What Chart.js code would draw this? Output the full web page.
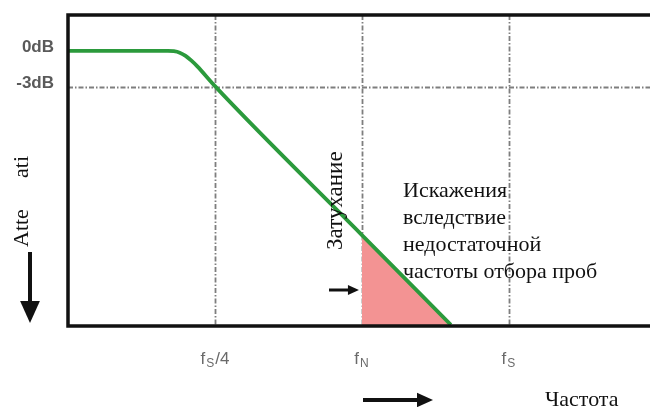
<!DOCTYPE html>
<html>
<head>
<meta charset="utf-8">
<script src="https://cdn.jsdelivr.net/npm/chart.js@4"></script>
<style>
    html, body { margin: 0; padding: 0; background: #fff; }
    #wrap { width: 650px; height: 407px; }
</style>
</head>
<body>
<div id="wrap"><canvas id="chart-js" width="650" height="407"></canvas></div>
<script>
// x in units of fs/4, y in dB
const freqTicks = [1, 2, 3];
const freqLabels = [['f', 'S', '/4'], ['f', 'N', ''], ['f', 'S', '']];
const levelTicks = [0, -3];
const levelLabels = ['0dB', '-3dB'];

const responseX = [0, 0.68, 0.72, 0.76, 0.80, 0.84, 0.88, 1.0, 2.0, 2.605];
const responseDb = [0, 0, -0.03, -0.15, -0.42, -0.82, -1.3, -2.95, -15.4, -22.9];

const aliasX = [2.0, 2.605];
const aliasDb = [-15.4, -22.9];

const gridDb = [-3];

const axisLabelParts = ['Atte', 'ati'];
const attenLabel = 'Затухание';
const aliasText = ['Искажения', 'вследствие', 'недостаточной', 'частоты отбора проб'];
const freqTitle = 'Частота';

const toPoints = (xs, ys) => xs.map((x, i) => ({ x: x, y: ys[i] }));

function arrow(ctx, x1, y1, x2, y2, head, w) {
    const a = Math.atan2(y2 - y1, x2 - x1);
    ctx.save();
    ctx.strokeStyle = '#111';
    ctx.fillStyle = '#111';
    ctx.lineWidth = w;
    ctx.beginPath();
    ctx.moveTo(x1, y1);
    ctx.lineTo(x2 - Math.cos(a) * head * 0.8, y2 - Math.sin(a) * head * 0.8);
    ctx.stroke();
    ctx.beginPath();
    ctx.moveTo(x2, y2);
    ctx.lineTo(x2 - Math.cos(a) * head - Math.sin(a) * head * 0.45, y2 - Math.sin(a) * head + Math.cos(a) * head * 0.45);
    ctx.lineTo(x2 - Math.cos(a) * head + Math.sin(a) * head * 0.45, y2 - Math.sin(a) * head - Math.cos(a) * head * 0.45);
    ctx.closePath();
    ctx.fill();
    ctx.restore();
}

const decor = {
    id: 'decor',
    beforeDatasetsDraw(chart) {
        const { ctx, chartArea: ca, scales: { x, y } } = chart;
        ctx.save();
        ctx.strokeStyle = '#7e7e7e';
        ctx.lineWidth = 1.8;
        ctx.setLineDash([5, 2, 1.5, 2]);
        freqTicks.forEach(v => {
            const px = Math.round(x.getPixelForValue(v)) + 0.5;
            ctx.beginPath();
            ctx.moveTo(px, ca.top);
            ctx.lineTo(px, ca.bottom);
            ctx.stroke();
        });
        gridDb.forEach(v => {
            const py = Math.round(y.getPixelForValue(v)) + 0.5;
            ctx.beginPath();
            ctx.moveTo(ca.left, py);
            ctx.lineTo(ca.right, py);
            ctx.stroke();
        });
        ctx.restore();
    },
    afterDatasetsDraw(chart) {
        const { ctx, chartArea: ca, scales: { x, y } } = chart;
        ctx.save();

        // frame: left, top, bottom
        ctx.strokeStyle = '#111';
        ctx.lineWidth = 3.5;
        ctx.beginPath();
        ctx.moveTo(ca.right + 2, ca.top);
        ctx.lineTo(ca.left, ca.top);
        ctx.lineTo(ca.left, ca.bottom);
        ctx.lineTo(ca.right + 2, ca.bottom);
        ctx.stroke();

        // level labels
        ctx.fillStyle = '#5a5a5a';
        ctx.font = 'bold 17px "Liberation Sans", Arial, sans-serif';
        ctx.textAlign = 'right';
        ctx.textBaseline = 'alphabetic';
        levelTicks.forEach((v, i) => {
            ctx.fillText(levelLabels[i], ca.left - 14, y.getPixelForValue(v) + 1);
        });

        // frequency labels with subscripts
        ctx.fillStyle = '#6a6a6a';
        ctx.textAlign = 'left';
        const big = '17px "Liberation Sans", Arial, sans-serif';
        const small = '12px "Liberation Sans", Arial, sans-serif';
        freqTicks.forEach((v, i) => {
            const [m, sub, rest] = freqLabels[i];
            ctx.font = big;
            const wm = ctx.measureText(m).width + 1;
            const wr = ctx.measureText(rest).width;
            ctx.font = small;
            const ws = ctx.measureText(sub).width + 1;
            const px = x.getPixelForValue(v) - (wm + ws + wr) / 2;
            const base = 364;
            ctx.font = big;
            ctx.fillText(m, px, base);
            ctx.font = small;
            ctx.fillText(sub, px + wm, base + 3);
            ctx.font = big;
            ctx.fillText(rest, px + wm + ws, base);
        });

        // serif annotations
        ctx.fillStyle = '#111';
        ctx.font = '22px "Liberation Serif", "Times New Roman", serif';
        ctx.save();
        ctx.translate(28, 247);
        ctx.rotate(-Math.PI / 2);
        ctx.fillText(axisLabelParts[0], 0, 0);
        ctx.fillText(axisLabelParts[1], 69, 0);
        ctx.restore();

        ctx.save();
        ctx.font = '23px "Liberation Serif", "Times New Roman", serif';
        ctx.translate(342, 250);
        ctx.rotate(-Math.PI / 2);
        ctx.fillText(attenLabel, 0, 0);
        ctx.restore();

        ctx.font = '22px "Liberation Serif", "Times New Roman", serif';
        aliasText.forEach((t, i) => ctx.fillText(t, 403, 197 + i * 27));
        ctx.fillText(freqTitle, 545, 406);

        // arrows
        arrow(ctx, 30, 252, 30, 323, 22, 4);
        arrow(ctx, 363, 400, 433, 400, 16, 4);
        const fn = x.getPixelForValue(2);
        arrow(ctx, 329, 290, fn - 3, 290, 11, 3);

        ctx.restore();
    }
};

new Chart(document.getElementById('chart-js'), {
    type: 'line',
    data: {
        datasets: [
            {
                label: 'alias',
                data: toPoints(aliasX, aliasDb),
                borderWidth: 0,
                borderColor: 'rgba(0,0,0,0)',
                backgroundColor: '#f39393',
                fill: 'start',
                pointRadius: 0,
                order: 2
            },
            {
                label: 'response',
                data: toPoints(responseX, responseDb),
                borderColor: '#2b9a3c',
                borderWidth: 3.8,
                cubicInterpolationMode: 'monotone',
                fill: false,
                pointRadius: 0,
                order: 1
            }
        ]
    },
    options: {
        responsive: false,
        animation: false,
        layout: { padding: { left: 68, top: 15, right: 0, bottom: 81 } },
        plugins: { legend: { display: false }, tooltip: { enabled: false } },
        scales: {
            x: {
                type: 'linear', min: 0, max: 3.96,
                grid: { display: false, drawTicks: false },
                border: { display: false },
                ticks: { display: false }
            },
            y: {
                type: 'linear', min: -23, max: 3,
                grid: { display: false, drawTicks: false },
                border: { display: false },
                ticks: { display: false }
            }
        }
    },
    plugins: [decor]
});
</script>
</body>
</html>
